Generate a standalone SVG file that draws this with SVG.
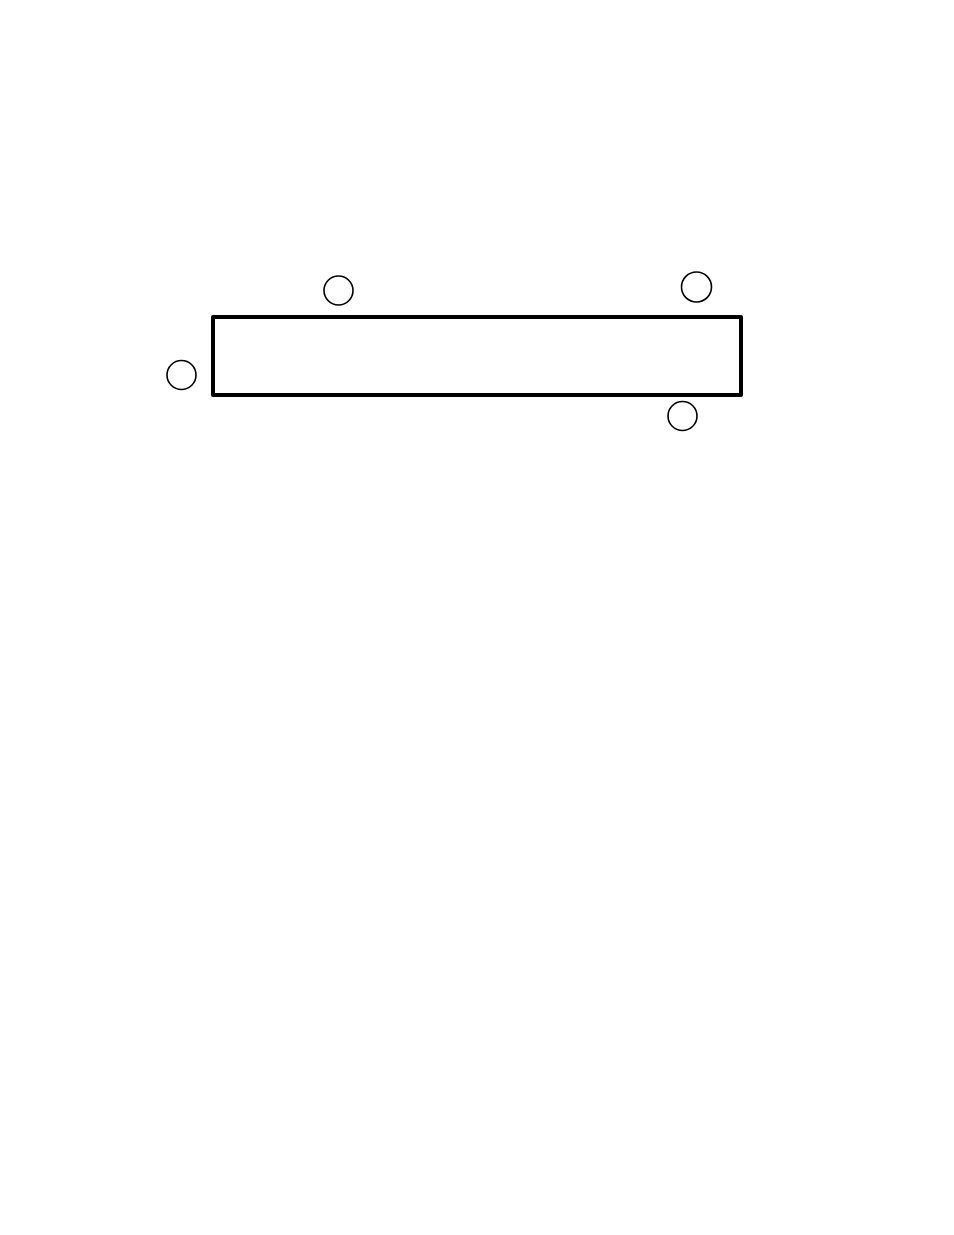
<svg xmlns="http://www.w3.org/2000/svg" width="954" height="1235" viewBox="0 0 954 1235">
<style>
.c{fill:#fff;stroke:#000;stroke-width:1.6}
.r{fill:#fff;stroke:#000;stroke-width:4;stroke-linejoin:round}
</style>
<rect width="954" height="1235" fill="#fff"/>
<g id="box"><rect class="r" x="213" y="317" width="528" height="78"/></g>
<g id="n1"><ellipse class="c" cx="338.5" cy="290.5" rx="14.5" ry="14.5"/></g>
<g id="n2"><ellipse class="c" cx="696.5" cy="287" rx="15" ry="15"/></g>
<g id="n3"><ellipse class="c" cx="181.5" cy="375" rx="14.5" ry="14.5"/></g>
<g id="n4"><ellipse class="c" cx="682.5" cy="416" rx="14.5" ry="14.5"/></g>
<g id="connectors"></g>
</svg>
